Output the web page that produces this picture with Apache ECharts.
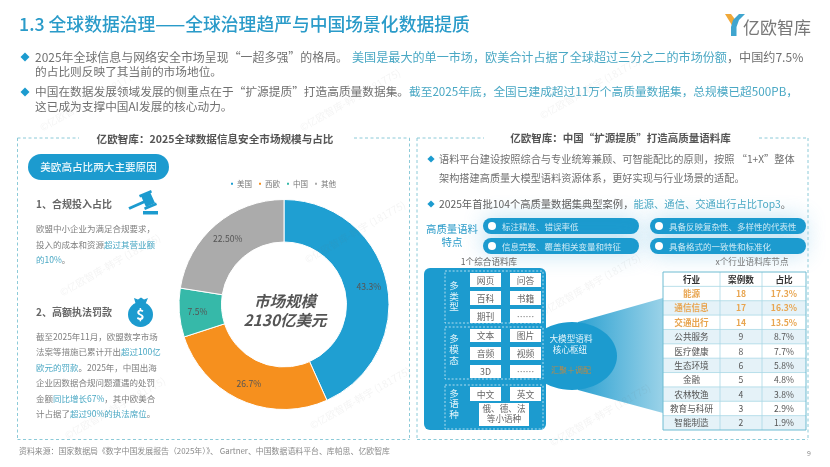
<!DOCTYPE html>
<html><head><meta charset="utf-8">
<style>html,body{margin:0;padding:0;background:#fff}#c{width:830px;height:467px}</style>
<script src="https://cdn.jsdelivr.net/npm/echarts@6/dist/echarts.min.js"></script>
</head><body><div id="c"></div>
<script>
// ---- data ----
var regions = ['美国','西欧','中国','其他'];
var shares = [43.3,26.7,7.5,22.5];
var shareLabels = ['43.3%','26.7%','7.5%','22.50%'];
var regionColors = ['#1f9fd2','#f6901e','#36b9a9','#ababab'];
var marketCentre = ['市场规模','2130亿美元'];
var industries = ['能源','通信信息','交通出行','公共服务','医疗健康','生态环境','金融','农林牧渔','教育与科研','智能制造'];
var caseCounts = [18,17,14,9,8,6,5,4,3,2];
var caseShares = ['17.3%','16.3%','13.5%','8.7%','7.7%','5.8%','4.8%','3.8%','2.9%','1.9%'];
var tableHead = ['行业','案例数','占比'];
var FONT = '"Noto Sans CJK SC","Noto Sans",sans-serif';
var BLUE = '#1c9bcf', DASH = '#8ccad8', GREY = '#707070', HL = '#4aa8c4';

var g = [];
function T(x,y,text,size,color,o){o=o||{};
  g.push({type:'text',x:x,y:y,rotation:o.rot||0,z:o.z||5,silent:true,style:{text:text,fontSize:size,fill:color,fontFamily:FONT,
    fontWeight:o.w||'normal',fontStyle:o.it||'normal',align:o.a||'left',verticalAlign:'middle'}});}
function R(x1,y1,x2,y2,fill,o){o=o||{};
  g.push({type:'rect',z:o.z||3,silent:true,shape:{x:x1,y:y1,width:x2-x1,height:y2-y1,r:o.r||0},
    style:{fill:fill,stroke:o.stroke||null,lineWidth:o.lw||0,lineDash:o.dash||null,shadowBlur:o.sb||0,shadowColor:o.sc||'transparent'}});}
function L(x1,y1,x2,y2,c,o){o=o||{};
  g.push({type:'line',z:o.z||3,silent:true,shape:{x1:x1,y1:y1,x2:x2,y2:y2},style:{stroke:c,lineWidth:o.lw||1,lineDash:o.dash||null}});}
function P(pts,fill,z){g.push({type:'polygon',z:z||3,silent:true,shape:{points:pts},style:{fill:fill}});}
function C(x,y,r,fill,z){g.push({type:'circle',z:z||4,silent:true,shape:{cx:x,cy:y,r:r},style:{fill:fill}});}
// segs: list of [text, highlighted?]
function S(x,y,segs,size,base,hl,w){
  var rich={n:{fontSize:size,fill:base,fontFamily:FONT,fontWeight:w||'normal'},h:{fontSize:size,fill:hl,fontFamily:FONT,fontWeight:w||'normal'}};
  var t=segs.map(function(s){return '{'+(s[1]?'h':'n')+'|'+s[0]+'}';}).join('');
  g.push({type:'text',x:x,y:y,z:5,silent:true,style:{text:t,rich:rich,fontSize:size,fontFamily:FONT,align:'left',verticalAlign:'middle'}});
}
function diamond(x,y,r,c){P([[x-r,y],[x,y-r],[x+r,y],[x,y+r]],c||BLUE);}

// ---- header ----
T(19,24,'1.3 全球数据治理——全球治理趋严与中国场景化数据提质',17.8,'#2a9bc9',{w:500});
P([[725,14],[731,14],[737,22],[733,27]],'#f0a838');
P([[731,36],[736.5,36],[736.5,27],[739,20],[745,14],[739,14],[733,20],[731,27]],'#3fa5cf');
T(743,28,'亿欧智库',17,'#777');

diamond(25,57,4.5);
S(35,57,[['2025年全球信息与网络安全市场呈现“一超多强”的格局。']],11.95,GREY,HL);
S(352,57,[['美国是最大的单一市场，欧美合计占据了全球超过三分之二的市场份额',1]],12.1,GREY,HL);
S(727,57,[['，中国约7.5%']],12.1,GREY,HL);
S(35,71.5,[['的占比则反映了其当前的市场地位。']],11.7,GREY,HL);
diamond(25,92,4.5);
S(35,92,[['中国在数据发展领域发展的侧重点在于“扩源提质”打造高质量数据集。'],['截至2025年底，全国已建成超过11万个高质量数据集，总规模已超500PB，',1]],11.7,GREY,HL);
S(35,106.5,[['这已成为支撑中国AI发展的核心动力。']],11.7,GREY,HL);

// ---- left panel ----
var dd={dash:[3,2.5],lw:1};
L(17.5,138,79,138,DASH,dd); L(354,138,409.5,138,DASH,dd);
L(17.5,138,17.5,439.5,DASH,dd); L(409.5,138,409.5,439.5,DASH,dd); L(17.5,439.5,409.5,439.5,DASH,dd);
T(215,138.5,'亿欧智库：2025全球数据信息安全市场规模与占比',10.6,'#555',{a:'center',w:'bold'});
R(28,154,169,180,BLUE,{r:13});
T(98.5,167,'美欧高占比两大主要原因',10.6,'#e8f6fb',{a:'center',w:500});
T(36,204,'1、合规投入占比',10,'#666',{w:'bold'});
// gavel
L(129,208.5,146,201,BLUE,{lw:3});
P([[141,196],[150,192],[155,203],[146,207]],BLUE);
P([[139,195],[151,190],[152,192.5],[140,197.5]],BLUE);
P([[144,207.5],[156,202.5],[157,205],[145,210]],BLUE);
R(143,211,158,214.5,BLUE);
S(36,229,[['欧盟中小企业为满足合规要求，']],8.5,'#808080',HL);
S(36,245,[['投入的成本和资源'],['超过其营业额',1]],8.5,'#808080',HL);
S(36,260,[['的10%',1],['。']],8.5,'#808080',HL);

T(36,312,'2、高额执法罚款',10,'#666',{w:'bold'});
// money bag
P([[134,298],[138,299.5],[141,297.5],[144,299.5],[148,298],[145,305],[136,305]],BLUE);
C(140.5,314.5,12.5,BLUE);
T(140.5,314.5,'$',14,'#fff',{a:'center',w:'bold'});
var para2=[
 [['截至2025年11月，欧盟数字市场']],
 [['法案等措施已累计开出'],['超过100亿',1]],
 [['欧元的罚款',1],['。2025年，中国出海']],
 [['企业因数据合规问题遭遇的处罚']],
 [['金额'],['同比增长67%',1],['，其中欧美合']],
 [['计占据了'],['超过90%的执法席位',1],['。']]];
var para2y=[337,352,367.5,383,398.5,414];
para2.forEach(function(s,i){S(36,para2y[i],s,8.5,'#808080',HL);});

// centre of donut
T(285,301,marketCentre[0],15.5,'#555',{a:'center',w:'bold',it:'italic'});
T(285,320,marketCentre[1],15.5,'#555',{a:'center',w:'bold',it:'italic'});

// ---- right panel ----
L(417,138,484,138,DASH,dd); L(759,138,808,138,DASH,dd);
L(417,138,417,439.5,DASH,dd); L(808,138,808,439.5,DASH,dd); L(417,439.5,808,439.5,DASH,dd);
T(620.5,138.5,'亿欧智库：中国“扩源提质”打造高质量语料库',10.5,'#555',{a:'center',w:'bold'});
diamond(431,159,3.6);
S(439,159,[['语料平台建设按照综合与专业统筹兼顾、可智能配比的原则，按照 “1+X”整体']],10.2,'#707070',HL);
S(439,178,[['架构搭建高质量大模型语料资源体系，更好实现与行业场景的适配。']],10.2,'#707070',HL);
diamond(431,204,3.6);
S(439,204,[['2025年首批104个高质量数据集典型案例，'],['能源、通信、交通出行占比Top3',1],['。']],10.3,'#606060',HL);
T(452,229,'高质量语料',10.4,'#2a9bc9',{a:'center'});
T(452,242,'特点',10.4,'#2a9bc9',{a:'center'});
var traits=[['标注精准、错误率低','具备反映复杂性、多样性的代表性'],['信息完整、覆盖相关变量和特征','具备格式的一致性和标准化']];
var pillY=[[218,234],[238,254]], pillX=[[483,639],[650,806]];
pillX.forEach(function(px,c){pillY.forEach(function(py,r){
  R(px[0],py[0],px[1],py[1],BLUE,{r:8,sb:22,sc:'rgba(40,160,215,0.32)',z:1});
  C(px[0]+9,py[0]+8,4,'#fff');
  T(px[0]+19,py[0]+8.3,traits[r][c],8.5,'#cdeaf5');
});});

T(489,262,'1个综合语料库',8.6,'#666',{a:'center'});
T(752,262,'x个行业语料库节点',8.6,'#777',{a:'center'});

// funnel
g.push({type:'polygon',z:2,silent:true,shape:{points:[[578,322],[663,298],[663,413],[578,390]]},
  style:{fill:new echarts.graphic.LinearGradient(0,0,1,0,[{offset:0,color:'#2ea2d2'},{offset:1,color:'#9ad2e8'}])}});
g.push({type:'ellipse',z:2,silent:true,shape:{cx:572,cy:356,rx:45,ry:34},style:{fill:BLUE}});
R(424,268,546,430,BLUE,{r:6});
var wd={stroke:'#d5eef7',lw:0.8,dash:[2,1.8]};
R(445,271,543,323,'transparent',wd); R(445,327,543,379,'transparent',wd); R(445,385,543,429,'transparent',wd);
function vert(x,ys,s){s.split('').forEach(function(ch,i){T(x,ys[i],ch,9.6,'#e2f4fa',{a:'center'});});}
vert(454,[285,296,306],'多类型'); vert(454,[338,349,360],'多模态'); vert(454,[393,403,414],'多语种');
var cx=[[470,501],[510,541]];
var cells=[[273,287,'网页','问答'],[291,305,'百科','书籍'],[309,323,'期刊','……'],[329,342,'文本','图片'],[347,360,'音频','视频'],[365,378,'3D','……'],[387,401,'中文','英文']];
cells.forEach(function(c){
  R(cx[0][0],c[0],cx[0][1],c[1],'#fff',{z:4}); T((cx[0][0]+cx[0][1])/2,(c[0]+c[1])/2+.3,c[2],8.8,'#666',{a:'center'});
  R(cx[1][0],c[0],cx[1][1],c[1],'#fff',{z:4}); T((cx[1][0]+cx[1][1])/2,(c[0]+c[1])/2+.3,c[3],8.8,'#666',{a:'center'});
});
R(479,403,529,426,'#fff',{z:4});
T(504,409,'俄、德、法',8.6,'#666',{a:'center'});
T(504,419,'等小语种',8.6,'#666',{a:'center'});
T(571,339,'大模型语料',8.6,'#e8f6fb',{a:'center'});
T(570,349.5,'核心枢纽',8.6,'#e8f6fb',{a:'center'});
T(571,369.5,'汇聚＋调配',8,'#b98a48',{a:'center'});

// table
var tx=[663,720,762,806], ty0=272, rh=(430-272)/11;
var tc=[(tx[0]+tx[1])/2,(tx[1]+tx[2])/2,(tx[2]+tx[3])/2];
var LINE='#a9d8e6';
R(tx[0],ty0,tx[3],430,'#fff',{z:3});
tableHead.forEach(function(h,i){T(tc[i],ty0+rh/2+.3,h,8.6,'#333',{a:'center',w:'bold'});});
industries.forEach(function(name,i){
  var y=ty0+rh*(i+1), hot=i<3, col=hot?'#e8a550':'#555', w=hot?'bold':'normal';
  if(i%2==1) R(tx[0],y,tx[3],y+rh,'#e5f2f8',{z:3});
  T(tc[0],y+rh/2+.3,name,8.6,col,{a:'center',w:w});
  T(tc[1],y+rh/2+.3,String(caseCounts[i]),8.6,col,{a:'center',w:w});
  T(tc[2],y+rh/2+.3,caseShares[i],8.6,col,{a:'center',w:w});
});
for(var i=1;i<11;i++) L(tx[0],ty0+rh*i,tx[3],ty0+rh*i,LINE,{z:4,lw:.8});
L(tx[1],ty0,tx[1],430,LINE,{z:4,lw:.8}); L(tx[2],ty0,tx[2],430,LINE,{z:4,lw:.8});
R(tx[0],ty0,tx[3],430,'transparent',{z:4,stroke:'#6fbcd2',lw:1});

// footer
T(19,451,'资料来源：国家数据局《数字中国发展报告（2025年）》、 Gartner、中国数据语料平台、库帕思、亿欧智库',7.9,'#8a8a8a');
T(809,453,'9',7,'#888',{a:'center'});

// watermarks
[[90,100],[350,100],[590,88],[110,265],[355,232],[360,398],[590,285],[600,415],[115,408]].forEach(function(p){
  T(p[0],p[1],'©亿欧智库-韩宇 (181775)',10,'rgba(120,120,120,0.08)',{a:'center',rot:0.52,z:9});
});

var chart = echarts.init(document.getElementById('c'),null,{renderer:'canvas'});
chart.setOption({
  animation:false,
  backgroundColor:'#fff',
  color:regionColors,
  legend:{left:224,top:175,icon:'rect',itemWidth:4,itemHeight:4,itemGap:5,data:regions,
    textStyle:{fontSize:7.5,color:'#777',fontFamily:FONT,padding:[0,0,0,-2]}},
  series:[{type:'pie',center:[284,304.5],radius:[62.5,105],startAngle:90,clockwise:true,avoidLabelOverlap:false,
    itemStyle:{borderColor:'#fff',borderWidth:1},
    label:{show:true,position:'inside',fontSize:8.6,color:'#555',fontFamily:FONT,
      formatter:function(p){return shareLabels[p.dataIndex];}},
    labelLine:{show:false},
    data:regions.map(function(n,i){return {name:n,value:shares[i]};})}],
  graphic:{elements:g}
});
</script></body></html>
